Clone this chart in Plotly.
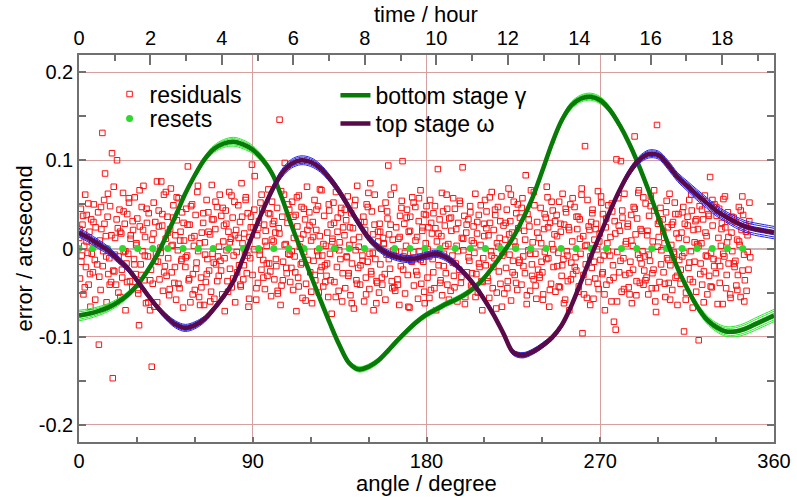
import plotly.graph_objects as go

# ---------------- data ----------------
angle_knots = [0, 5, 10, 15, 20, 25, 30, 35, 40, 45, 50, 55,
               60, 65, 70, 75, 80, 85, 90, 95, 100, 105, 110, 115,
               120, 125, 130, 135, 140, 145, 150, 155, 160, 165, 170, 175,
               180, 185, 190, 195, 200, 205, 210, 215, 220, 225, 230, 235,
               240, 245, 250, 255, 260, 265, 270, 275, 280, 285, 290, 295,
               300, 305, 310, 315, 320, 325, 330, 335, 340, 345, 350, 355,
               360]

bottom_gamma = [-0.076, -0.074, -0.071, -0.067, -0.061, -0.053, -0.042, -0.027, -0.009, 0.013, 0.037, 0.062,
                0.083, 0.101, 0.113, 0.119, 0.121, 0.118, 0.112, 0.101, 0.085, 0.058, 0.027, -0.002,
                -0.030, -0.058, -0.085, -0.110, -0.130, -0.137, -0.134, -0.127, -0.116, -0.104, -0.093, -0.083,
                -0.075, -0.069, -0.063, -0.058, -0.052, -0.044, -0.033, -0.019, -0.004, 0.013, 0.034, 0.058,
                0.088, 0.119, 0.145, 0.162, 0.170, 0.172, 0.168, 0.157, 0.140, 0.119, 0.094, 0.066,
                0.036, 0.006, -0.022, -0.045, -0.065, -0.080, -0.089, -0.094, -0.094, -0.091, -0.086, -0.081,
                -0.076]

top_omega = [0.018, 0.012, 0.005, -0.002, -0.012, -0.022, -0.036, -0.051, -0.065, -0.077, -0.086, -0.090,
             -0.087, -0.080, -0.068, -0.054, -0.037, -0.011, 0.016, 0.042, 0.066, 0.085, 0.096, 0.100,
             0.098, 0.091, 0.079, 0.064, 0.046, 0.028, 0.012, 0.001, -0.006, -0.010, -0.012, -0.011,
             -0.008, -0.006, -0.010, -0.018, -0.029, -0.042, -0.058, -0.076, -0.097, -0.118, -0.121, -0.117,
             -0.110, -0.101, -0.087, -0.065, -0.038, -0.010, 0.016, 0.042, 0.066, 0.086, 0.100, 0.107,
             0.106, 0.095, 0.081, 0.071, 0.061, 0.052, 0.043, 0.036, 0.030, 0.025, 0.022, 0.020,
             0.018]

# half width of the bundle of thin ensemble lines around each stage curve
gamma_spread = [0.006, 0.0055, 0.005, 0.0045, 0.004, 0.0035, 0.003, 0.003, 0.003, 0.003, 0.003, 0.003,
                0.003, 0.0035, 0.004, 0.0045, 0.005, 0.005, 0.0045, 0.004, 0.0035, 0.003, 0.003, 0.003,
                0.003, 0.003, 0.003, 0.003, 0.003, 0.003, 0.003, 0.003, 0.003, 0.003, 0.003, 0.003,
                0.003, 0.003, 0.003, 0.003, 0.003, 0.003, 0.003, 0.003, 0.003, 0.003, 0.003, 0.003,
                0.003, 0.003, 0.0035, 0.004, 0.004, 0.004, 0.004, 0.0035, 0.003, 0.003, 0.003, 0.003,
                0.003, 0.003, 0.003, 0.0035, 0.004, 0.0045, 0.005, 0.0055, 0.006, 0.0065, 0.007, 0.007,
                0.007]
omega_spread = [0.005, 0.005, 0.005, 0.0045, 0.004, 0.0035, 0.003, 0.003, 0.003, 0.0035, 0.004, 0.004,
                0.004, 0.0035, 0.003, 0.003, 0.003, 0.003, 0.003, 0.0035, 0.004, 0.0045, 0.005, 0.005,
                0.005, 0.0045, 0.004, 0.004, 0.004, 0.004, 0.004, 0.004, 0.004, 0.004, 0.004, 0.004,
                0.004, 0.004, 0.004, 0.0035, 0.003, 0.003, 0.003, 0.003, 0.003, 0.003, 0.003, 0.003,
                0.003, 0.003, 0.003, 0.003, 0.003, 0.003, 0.003, 0.003, 0.0035, 0.004, 0.004, 0.0045,
                0.0045, 0.005, 0.005, 0.0055, 0.006, 0.006, 0.006, 0.006, 0.0065, 0.0065, 0.007, 0.007,
                0.007]
ensemble_levels = [-1.0, -0.7, -0.35, 0.35, 0.7, 1.0]

reset_angle = [0, 7.1, 14.9, 22.6, 30.4, 38.2, 46.0, 53.9, 61.7, 69.5, 77.4, 85.2, 93.0, 100.9, 108.7,
               116.5, 124.4, 132.2, 140.0, 147.9, 155.7, 163.5, 171.4, 179.2, 187.0, 194.9, 202.7, 210.5,
               218.4, 226.2, 234.0, 241.9, 249.7, 257.5, 265.4, 273.2, 281.0, 288.9, 296.7, 304.5, 312.4,
               320.2, 328.0, 335.9, 343.8]
reset_error = [0.0] * len(reset_angle)

# residuals: angle in tenths of a degree, error in milli-arcseconds
residual_angle_tenths = [
    1, 5, 10, 14, 18, 23, 27, 32, 36, 40, 45, 50, 54, 59, 63, 67, 72, 77, 82, 86,
    94, 99, 103, 108, 112, 116, 121, 125, 130, 135, 139, 143, 148, 152, 157, 161, 166, 171, 175, 180,
    183, 187, 192, 197, 201, 205, 210, 214, 219, 224, 228, 232, 237, 241, 246, 250, 255, 259, 264, 268,
    276, 280, 285, 289, 293, 298, 302, 307, 311, 315, 320, 325, 329, 334, 338, 342, 347, 352, 357, 361,
    368, 373, 377, 382, 386, 390, 395, 399, 404, 409, 413, 417, 422, 426, 431, 435, 440, 445, 449, 454,
    458, 462, 467, 472, 476, 480, 485, 489, 494, 499, 503, 507, 512, 516, 521, 526, 530, 534, 539, 544,
    551, 555, 560, 564, 568, 573, 577, 582, 586, 590, 595, 600, 604, 609, 613, 617, 622, 627, 632, 636,
    643, 648, 652, 657, 661, 665, 670, 674, 679, 684, 688, 692, 697, 701, 706, 710, 715, 720, 724, 729,
    733, 737, 742, 747, 751, 755, 760, 764, 769, 774, 778, 782, 787, 791, 796, 801, 805, 809, 814, 819,
    825, 829, 834, 838, 842, 847, 851, 856, 860, 864, 869, 874, 878, 883, 887, 891, 896, 901, 906, 910,
    918, 923, 927, 932, 936, 940, 945, 949, 954, 959, 963, 967, 972, 976, 981, 985, 990, 995, 999, 1004,
    1008, 1012, 1017, 1022, 1026, 1030, 1035, 1039, 1044, 1049, 1053, 1057, 1062, 1066, 1071, 1076, 1080, 1084, 1089, 1094,
    1100, 1104, 1109, 1113, 1117, 1122, 1126, 1131, 1135, 1139, 1144, 1149, 1153, 1158, 1162, 1166, 1171, 1176, 1181, 1185,
    1193, 1198, 1202, 1207, 1211, 1215, 1220, 1224, 1229, 1234, 1238, 1242, 1247, 1251, 1256, 1260, 1265, 1270, 1274, 1279,
    1282, 1286, 1291, 1296, 1300, 1304, 1309, 1313, 1318, 1323, 1327, 1331, 1336, 1340, 1345, 1350, 1354, 1358, 1363, 1368,
    1375, 1379, 1384, 1388, 1392, 1397, 1401, 1406, 1410, 1414, 1419, 1424, 1428, 1433, 1437, 1441, 1446, 1451, 1456, 1460,
    1468, 1473, 1477, 1482, 1486, 1490, 1495, 1499, 1504, 1509, 1513, 1517, 1522, 1526, 1531, 1535, 1540, 1545, 1549, 1554,
    1557, 1561, 1566, 1571, 1575, 1579, 1584, 1588, 1593, 1598, 1602, 1606, 1611, 1615, 1620, 1625, 1629, 1633, 1638, 1643,
    1650, 1654, 1659, 1663, 1667, 1672, 1676, 1681, 1685, 1689, 1694, 1699, 1703, 1708, 1712, 1716, 1721, 1726, 1731, 1735,
    1742, 1747, 1751, 1756, 1760, 1764, 1769, 1773, 1778, 1783, 1787, 1791, 1796, 1800, 1805, 1809, 1814, 1819, 1823, 1828,
    1832, 1836, 1841, 1846, 1850, 1854, 1859, 1863, 1868, 1873, 1877, 1881, 1886, 1890, 1895, 1900, 1904, 1908, 1913, 1918,
    1925, 1929, 1934, 1938, 1942, 1947, 1951, 1956, 1960, 1964, 1969, 1974, 1978, 1983, 1987, 1991, 1996, 2001, 2006, 2010,
    2017, 2022, 2026, 2031, 2035, 2039, 2044, 2048, 2053, 2058, 2062, 2066, 2071, 2075, 2080, 2084, 2089, 2094, 2098, 2103,
    2107, 2111, 2116, 2121, 2125, 2129, 2134, 2138, 2143, 2148, 2152, 2156, 2161, 2165, 2170, 2175, 2179, 2183, 2188, 2193,
    2199, 2203, 2208, 2212, 2216, 2221, 2225, 2230, 2234, 2238, 2243, 2248, 2252, 2257, 2261, 2265, 2270, 2275, 2280, 2284,
    2292, 2297, 2301, 2306, 2310, 2314, 2319, 2323, 2328, 2333, 2337, 2341, 2346, 2350, 2355, 2359, 2364, 2369, 2373, 2378,
    2382, 2386, 2391, 2396, 2400, 2404, 2409, 2413, 2418, 2423, 2427, 2431, 2436, 2440, 2445, 2450, 2454, 2458, 2463, 2468,
    2474, 2478, 2483, 2487, 2491, 2496, 2500, 2505, 2509, 2513, 2518, 2523, 2527, 2532, 2536, 2540, 2545, 2550, 2555, 2559,
    2567, 2572, 2576, 2581, 2585, 2589, 2594, 2598, 2603, 2608, 2612, 2616, 2621, 2625, 2630, 2634, 2639, 2644, 2648, 2653,
    2656, 2660, 2665, 2670, 2674, 2678, 2683, 2688, 2692, 2697, 2701, 2705, 2710, 2714, 2719, 2724, 2728, 2732, 2737, 2742,
    2749, 2753, 2758, 2762, 2766, 2771, 2775, 2780, 2784, 2788, 2793, 2798, 2802, 2807, 2811, 2815, 2820, 2825, 2830, 2834,
    2842, 2847, 2851, 2856, 2860, 2864, 2869, 2873, 2878, 2883, 2887, 2891, 2896, 2900, 2905, 2909, 2914, 2919, 2923, 2928,
    2931, 2935, 2940, 2945, 2949, 2953, 2958, 2962, 2967, 2972, 2976, 2980, 2985, 2989, 2994, 2999, 3003, 3007, 3012, 3017,
    3024, 3028, 3033, 3037, 3041, 3046, 3050, 3055, 3059, 3063, 3068, 3073, 3077, 3082, 3086, 3090, 3095, 3100, 3105, 3109,
    3116, 3121, 3125, 3130, 3134, 3138, 3143, 3147, 3152, 3157, 3161, 3165, 3170, 3174, 3179, 3183, 3188, 3193, 3197, 3202,
    3206, 3210, 3215, 3220, 3224, 3228, 3233, 3237, 3242, 3247, 3251, 3255, 3260, 3264, 3269, 3274, 3278, 3282, 3287, 3292,
    3299, 3303, 3308, 3312, 3316, 3321, 3325, 3330, 3334, 3338, 3343, 3348, 3352, 3357, 3361, 3365, 3370, 3375, 3380, 3384,
    3391, 3396, 3400, 3405, 3409, 3413, 3418, 3422, 3427, 3432, 3436, 3440, 3445, 3449, 3454, 3458, 3463, 3468, 3472, 3477,
    3, 12, 21, 30, 39, 48, 57, 66, 75, 84,
    96, 105, 114, 123, 132, 141, 150, 159, 168, 177,
    186, 195, 204, 213, 222, 231, 240, 249, 258, 267,
    278, 287, 296, 305, 314, 323, 332, 341, 350, 359,
    369, 378, 387, 396, 405, 414, 423, 432, 441, 450,
    461, 470, 479, 488, 497, 506, 515, 524, 533, 542,
    553, 562, 571, 580, 589, 598, 607, 616, 625, 634,
    644, 653, 662, 671, 680, 689, 698, 707, 716, 725,
    736, 745, 754, 763, 772, 781, 790, 799, 808, 817,
    827, 836, 845, 854, 863, 872, 881, 890, 899, 908,
    919, 928, 937, 946, 955, 964, 973, 982, 991, 1000,
    1011, 1020, 1029, 1038, 1047, 1056, 1065, 1074, 1083, 1092,
    1102, 1111, 1120, 1129, 1138, 1147, 1156, 1165, 1174, 1183,
    1194, 1203, 1212, 1221, 1230, 1239, 1248, 1257, 1266, 1275,
    1285, 1294, 1303, 1312, 1321, 1330, 1339, 1348, 1357, 1366,
    1377, 1386, 1395, 1404, 1413, 1422, 1431, 1440, 1449, 1458,
    1469, 1478, 1487, 1496, 1505, 1514, 1523, 1532, 1541, 1550,
    1560, 1569, 1578, 1587, 1596, 1605, 1614, 1623, 1632, 1641,
    1652, 1661, 1670, 1679, 1688, 1697, 1706, 1715, 1724, 1733,
    1743, 1752, 1761, 1770, 1779, 1788, 1797, 1806, 1815, 1824,
    1835, 1844, 1853, 1862, 1871, 1880, 1889, 1898, 1907, 1916,
    1927, 1936, 1945, 1954, 1963, 1972, 1981, 1990, 1999, 2008,
    2018, 2027, 2036, 2045, 2054, 2063, 2072, 2081, 2090, 2099,
    2110, 2119, 2128, 2137, 2146, 2155, 2164, 2173, 2182, 2191,
    2201, 2210, 2219, 2228, 2237, 2246, 2255, 2264, 2273, 2282,
    2293, 2302, 2311, 2320, 2329, 2338, 2347, 2356, 2365, 2374,
    2385, 2394, 2403, 2412, 2421, 2430, 2439, 2448, 2457, 2466,
    2476, 2485, 2494, 2503, 2512, 2521, 2530, 2539, 2548, 2557,
    2568, 2577, 2586, 2595, 2604, 2613, 2622, 2631, 2640, 2649,
    2659, 2668, 2677, 2686, 2695, 2704, 2713, 2722, 2731, 2740,
    2751, 2760, 2769, 2778, 2787, 2796, 2805, 2814, 2823, 2832,
    2843, 2852, 2861, 2870, 2879, 2888, 2897, 2906, 2915, 2924,
    2934, 2943, 2952, 2961, 2970, 2979, 2988, 2997, 3006, 3015,
    3026, 3035, 3044, 3053, 3062, 3071, 3080, 3089, 3098, 3107,
    3117, 3126, 3135, 3144, 3153, 3162, 3171, 3180, 3189, 3198,
    3209, 3218, 3227, 3236, 3245, 3254, 3263, 3272, 3281, 3290,
    3301, 3310, 3319, 3328, 3337, 3346, 3355, 3364, 3373, 3382,
    3392, 3401, 3410, 3419, 3428, 3437, 3446, 3455, 3464, 3473,
]
residual_mas = [
    12, -34, 45, -8, 27, -52, 3, 61, -21, 38, -5, -41, 19, -66, 33, 7, -27, 50, -13, 24,
    -18, 41, -109, 9, -47, 22, 131, -3, 55, 85, 14, -61, 36, -29, -11, 48, -38, 108, -147, 70,
    -26, 12, -41, 100, 23, -9, 44, -55, 17, -33, 63, -4, 28, -70, -17, 39, -6, 52, -37, 15,
    -44, 21, -12, 58, -29, 6, 34, -51, -87, 25, -18, 47, -3, 71, -36, 13, -62, 29, -9, 40,
    -70, -24, -134, -40, 17, -66, 30, -6, 76, -15, 43, -35, 1, 76, 26, -48, 61, -20, 11, -31,
    36, -11, -53, 22, 68, -27, 4, 49, -39, 15, -58, 32, -2, 57, -45, 19, -14, 41, -67, 9,
    -21, 45, -8, 93, -36, 27, -61, 12, 50, -29, 3, -47, 38, -16, 64, -3, -55, -64, -33, 18,
    29, -64, 7, -38, 55, -12, 41, -25, 16, -49, 72, -6, 33, -57, 22, -18, 47, -9, -31, 61,
    -14, 37, -52, 8, 26, -71, 43, -2, -37, 19, 64, -23, 11, -44, 35, -8, 53, -61, 21, -27,
    49, -19, 30, -43, 74, 6, -35, 17, -5, 58, -28, 40, -66, 13, -11, 36, 95, 24, -1, 82,
    -58, 15, -39, 31, -7, 52, -24, 44, -13, 27, -46, 20, 3, -31, 67, -17, 39, -54, 10, 28,
    8, -35, 18, -20, 46, -51, 23, 146, -64, -42, 36, -15, 61, 97, 5, -28, 29, -6, 44, -38,
    -22, 53, -47, 12, -9, 38, -71, 25, -33, 60, 2, -18, 47, -56, 16, -4, 33, -40, 70, -13,
    41, -27, 9, -62, 30, -14, 55, -36, 21, -3, 48, -50, 14, -25, 66, -8, -43, 37, -19, 3,
    -31, 18, -55, 43, -6, 27, -74, 11, 52, -38, 0, 64, -21, 35, -48, 7, -12, 46, -60, 24,
    15, -45, 32, -10, 59, -28, 4, -53, 40, -17, 23, -68, 49, -2, -36, 71, -22, 13, -41, 30,
    -8, 36, -60, 21, -33, 50, -15, 63, -46, 74, -26, 42, -5, -70, 27, -12, -62, -39, 19, -50,
    28, -18, 45, -41, 12, 6, -29, 52, -7, 34, 94, 16, -23, 61, -37, 10, -2, -44, -48, 24,
    -35, 11, -64, 37, -20, 54, 99, -9, 28, -51, 3, 44, -30, 19, -67, 36, -14, 58, -4, -42,
    47, -26, 13, -57, 31, -3, 66, -40, 20, -15, 39, -62, 6, 48, -33, 24, -9, 55, -47, 17,
    -12, 40, -45, 23, -70, 8, 90, -19, 33, -36, 14, -53, 42, -6, 26, -28, 61, -41, 5, 34,
    -48, 20, -8, 57, -31, 45, -17, 3, -60, 29, -24, 51, -39, 12, 92, -2, 37, -55, 18, -27,
    33, -14, 48, -42, 9, -44, 25, -5, 62, -29, 17, -50, 38, -21, 4, -37, -70, -11, 28, 55,
    -19, 42, -33, 15, -56, 29, -3, 64, -45, 21, -11, 38, -68, 6, 47, -26, 12, -40, 59, -8,
    26, -51, 10, -22, 44, -37, 68, -7, 31, -59, 18, -14, 53, -30, 2, 40, -47, 23, -16, 35,
    -41, 57, -9, 20, -28, 83, -63, 39, -2, 25, -48, 66, -18, 7, -35, 49, -6, -57, 30, -24,
    12, -33, 46, -15, -27, -52, 22, -4, 35, 70, 58, -11, -66, 29, -40, 5, 43, -21, 16, -49,
    38, -20, -5, 53, -44, 19, -31, 62, -12, 27, -58, 41, -3, -37, 24, -70, 50, -16, 8, -29,
    47, -10, -25, 22, 36, -43, 33, -6, 61, -96, 14, -52, 116, -18, 4, 55, -38, 21, -64, 30,
    -22, 44, -57, 10, -34, 28, -1, 65, -46, 17, -13, 52, -29, 39, -8, -70, 24, -41, 6, 49,
    -36, 13, -60, 42, -19, -83, 31, -92, 101, -4, 57, -27, 20, 99, -49, 35, -11, 62, -30, 8,
    25, -44, -28, -15, 38, -62, 3, 47, 127, 16, -53, 34, -7, 66, -39, 22, -17, -3, 58, -25,
    -9, 51, -33, 20, -52, 37, -14, 59, -45, 8, -24, 43, -60, -72, 140, 28, 13, -38, 46, -2,
    33, -27, 6, -55, 41, -11, 24, -39, 62, -19, 4, -47, 30, -6, 52, -33, 17, -64, 39, -13,
    -40, 18, -9, 47, -94, 28, -58, 10, 36, -22, 55, -35, -3, 43, -67, 21, -15, 31, -49, 5,
    22, -104, 48, -17, 6, -41, 33, -26, 60, -8, 14, -52, 39, -31, 81, -5, -44, 26, -12, 50,
    -28, 37, -63, 12, 45, -20, 3, 29, -63, 56, -9, 24, -45, 7, 41, -17, 32, -56, 18, -3,
    35, -21, -14, -42, 10, -30, 47, 4, -55, 21, 59, 38, -7, -36, 26, -48, 15, -24, 31, -10,
    22, -15, 37, -44, 8, 51, -29, -6, 30, -58,
    5, -32, 47, -20, 28, -9, 62, -41, 15, -25,
    -7, 33, -50, 19, -24, 42, -3, -38, 57, 11,
    31, -18, 4, -47, 66, -30, 21, -8, 45, -61,
    -36, 10, 52, -14, -61, 25, -5, 39, -27, 64,
    18, -46, 3, 35, -21, 58, -40, 9, -12, 29,
    -10, 27, -34, 48, -52, 14, -23, 71, 6, -44,
    40, -7, -29, 19, -60, 33, -16, 53, -37, 2,
    -25, 46, -11, 28, -49, 7, 60, -34, 15, -4,
    12, -41, 36, -19, 55, -8, -57, 24, -30, 44,
    -45, 23, -2, 61, -33, 8, -17, 40, -26, 53,
    31, -12, -48, 17, 65, -36, 4, -22, 50, -7,
    -3, 36, -27, 58, -43, 11, -16, 45, -59, 21,
    26, -49, 13, -30, 44, -8, 67, -21, 5, -38,
    -17, 50, -36, 8, 29, -55, 19, -2, 40, -28,
    44, -9, -31, 24, -62, 10, 55, -40, 2, -19,
    -14, 30, -52, 47, -6, -29, 16, 61, -37, 8,
    19, -33, 5, -58, 42, -12, 27, -45, 69, -3,
    -41, 13, 46, -24, -5, 35, -66, 20, -15, 52,
    9, -30, 57, -13, 24, -49, 38, -1, -56, 29,
    -27, 48, -6, 17, -39, 63, -20, 3, 45, -58,
    35, -16, -44, 22, -3, 54, -32, 11, -63, 27,
    -10, 41, -28, 6, -55, 30, -17, 49, -38, 14,
    23, -37, 58, -8, -21, 44, -50, 2, 31, -66,
    -4, 29, -45, 16, 61, -27, 8, -39, 50, -13,
    46, -20, 10, -53, 33, -6, -31, 64, -42, 18,
    -30, 6, -58, 39, -12, 24, -47, 53, -1, 31,
    14, -43, 28, -19, -62, 45, -8, 21, -35, 57,
    -21, 36, -49, 11, 68, -30, 3, -56, 25, -9,
    40, -15, 22, -40, 8, 59, -27, -52, 34, -3,
    -8, 51, -33, 17, -60, 26, -14, 43, -46, 5,
    28, -52, 9, -24, 45, -37, 63, -11, 20, -41,
    -36, 15, -7, 48, -28, 66, -45, 2, 31, -18,
    20, -40, 54, -13, -58, 27, -4, 39, -31, 12,
    -24, 41, -5, -50, 26, -16, 61, -38, 7, 33,
    3, -29, 44, -61, 18, -9, 37, -43, 55, -20,
    47, -14, -39, 22, -6, 59, -30, 13, -52, 36,
    -17, 30, -47, 8, 43, -25, -60, 19, -4, 52,
]

hour_range = [0, 19.45]
deg_ticks = [0, 90, 180, 270, 360]
deg_minor = [30, 60, 120, 150, 210, 240, 300, 330]
hour_ticks = [0, 2, 4, 6, 8, 10, 12, 14, 16, 18]
hour_minor = [1, 3, 5, 7, 9, 11, 13, 15, 17, 19]
err_ticks = [-0.2, -0.1, 0, 0.1, 0.2]
err_ticktext = ["-0.2", "-0.1", "0", "0.1", "0.2"]
err_minor = [-0.15, -0.05, 0.05, 0.15]

# ---------------- figure ----------------
FONT = "Liberation Sans, Arial, Helvetica, sans-serif"
GRID = "#d6a0a0"
AXIS = "#707070"

fig = go.Figure()

fig.add_trace(go.Scatter(
    x=[a / 10 for a in residual_angle_tenths], y=[m / 1000 for m in residual_mas],
    mode="markers", name="residuals", legend="legend",
    marker=dict(symbol="square-open", size=5.5, color="#ff1010", line=dict(width=1, color="#ff1010")),
    hoverinfo="skip"))

fig.add_trace(go.Scatter(
    x=reset_angle, y=reset_error, mode="markers", name="resets", legend="legend2",
    marker=dict(symbol="circle", size=7, color="#2ed82e"), hoverinfo="skip"))

for lv in ensemble_levels:
    fig.add_trace(go.Scatter(
        x=angle_knots, y=[g + lv * s for g, s in zip(bottom_gamma, gamma_spread)],
        mode="lines", line=dict(color="#2ee82e", width=1, shape="spline"),
        showlegend=False, hoverinfo="skip"))
fig.add_trace(go.Scatter(
    x=angle_knots, y=bottom_gamma, mode="lines", name="bottom stage γ", legend="legend3",
    line=dict(color="#087a08", width=4.5, shape="spline"), hoverinfo="skip"))

for lv in ensemble_levels:
    fig.add_trace(go.Scatter(
        x=angle_knots, y=[o + lv * s for o, s in zip(top_omega, omega_spread)],
        mode="lines", line=dict(color="#2424f0", width=1, shape="spline"),
        showlegend=False, hoverinfo="skip"))
fig.add_trace(go.Scatter(
    x=angle_knots, y=top_omega, mode="lines", name="top stage ω", legend="legend4",
    line=dict(color="#5a0a48", width=4.5, shape="spline"), hoverinfo="skip"))

# carrier for the top (time) axis
fig.add_trace(go.Scatter(x=hour_range, y=[0, 0], xaxis="x2", mode="markers",
                         marker=dict(opacity=0), showlegend=False, hoverinfo="skip"))

tickfont = dict(family=FONT, size=20, color="black")
titlefont = dict(family=FONT, size=22, color="black")
legfont = dict(family=FONT, size=23, color="black")

fig.update_layout(
    width=797, height=500, autosize=False,
    margin=dict(l=79, r=23, t=55, b=58, pad=0),
    paper_bgcolor="white", plot_bgcolor="white",
    font=dict(family=FONT, color="black"),
    xaxis=dict(range=[0, 360], tickmode="array", tickvals=deg_ticks, ticks="inside", ticklen=5,
               tickcolor=AXIS, tickwidth=1.5, showgrid=True, gridcolor=GRID, gridwidth=1,
               zeroline=False, showline=True, linecolor=AXIS, linewidth=1.5, mirror=False,
               tickfont=tickfont, automargin=False,
               minor=dict(tickmode="array", tickvals=deg_minor, ticks="inside", ticklen=5,
                          tickcolor=AXIS, tickwidth=1.5, showgrid=False)),
    xaxis2=dict(range=hour_range, overlaying="x", side="top", anchor="y", tickmode="array",
                tickvals=hour_ticks, ticks="inside", ticklen=10, tickcolor=AXIS, tickwidth=1.5,
                showgrid=False, zeroline=False, showline=True, linecolor=AXIS, linewidth=1.5,
                tickfont=tickfont, automargin=False,
                minor=dict(tickmode="array", tickvals=hour_minor, ticks="inside", ticklen=6,
                           tickcolor=AXIS, tickwidth=1.5, showgrid=False)),
    yaxis=dict(range=[-0.2193, 0.2193], tickmode="array", tickvals=err_ticks, ticktext=err_ticktext,
               ticks="inside", ticklen=7, tickcolor=AXIS, tickwidth=1.5, showgrid=True,
               gridcolor=GRID, gridwidth=1, zeroline=True, zerolinecolor="#c8b4b4", zerolinewidth=1.5,
               showline=True, linecolor=AXIS, linewidth=1.5, mirror="ticks",
               tickfont=tickfont, automargin=False,
               minor=dict(tickmode="array", tickvals=err_minor, ticks="inside", ticklen=7,
                          tickcolor=AXIS, tickwidth=1.5, showgrid=False)),
    legend=dict(x=0.044, y=0.899, xanchor="left", yanchor="middle", bgcolor="rgba(0,0,0,0)",
                font=legfont, borderwidth=0),
    legend2=dict(x=0.044, y=0.836, xanchor="left", yanchor="middle", bgcolor="rgba(0,0,0,0)",
                 font=legfont, borderwidth=0),
    legend3=dict(x=0.369, y=0.896, xanchor="left", yanchor="middle", bgcolor="rgba(0,0,0,0)",
                 font=legfont, borderwidth=0),
    legend4=dict(x=0.369, y=0.823, xanchor="left", yanchor="middle", bgcolor="rgba(0,0,0,0)",
                 font=legfont, borderwidth=0),
    annotations=[
        dict(text="time / hour", xref="paper", yref="paper", x=0.4993, y=1.1034,
             xanchor="center", yanchor="middle", showarrow=False, font=titlefont),
        dict(text="angle / degree", xref="paper", yref="paper", x=0.4993, y=-0.1085,
             xanchor="center", yanchor="middle", showarrow=False, font=titlefont),
        dict(text="error / arcsecond", xref="paper", yref="paper", x=-0.0777, y=0.5,
             xanchor="center", yanchor="middle", textangle=-90, showarrow=False, font=titlefont),
    ],
    shapes=[
        # white background of the stage legend box (hides the grid behind it)
        dict(type="rect", xref="paper", yref="paper", x0=0.36, x1=0.66, y0=0.7726, y1=0.9302,
             fillcolor="white", line=dict(width=0), layer="between"),
    ],
)

fig.write_html("out.html")
